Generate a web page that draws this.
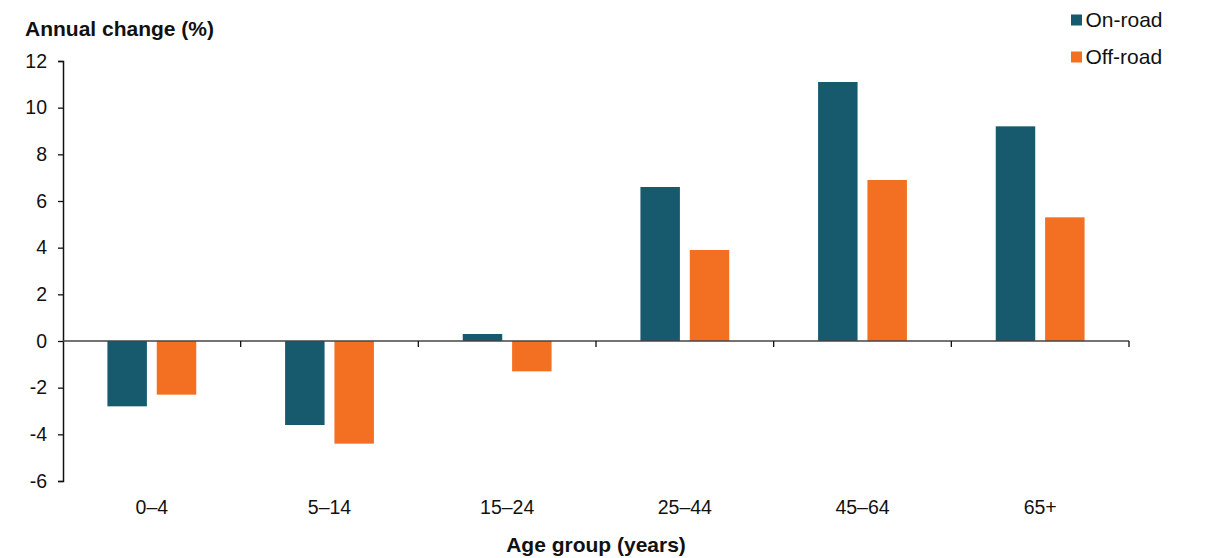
<!DOCTYPE html>
<html>
<head>
<meta charset="utf-8">
<script src="https://cdn.jsdelivr.net/npm/d3@7"></script>
<style>
  body { margin: 0; background: #fff; }
  text { font-family: "Liberation Sans", Arial, sans-serif; fill: #111; }
</style>
</head>
<body>
<script>
  // Data
  const ageGroups = ['0–4', '5–14', '15–24', '25–44', '45–64', '65+']
  const seriesNames = ['On-road', 'Off-road']
  const onRoad = [-2.8, -3.6, 0.3, 6.6, 11.1, 9.2]
  const offRoad = [-2.3, -4.4, -1.3, 3.9, 6.9, 5.3]
  const yTicks = [-6, -4, -2, 0, 2, 4, 6, 8, 10, 12]

  const colors = { 'On-road': '#175a6e', 'Off-road': '#f37022' }

  const width = 1208
  const height = 558
  const margin = { top: 61, right: 79, bottom: 77, left: 63 }

  const rows = ageGroups.map((g, i) => ({
    group: g,
    values: [
      { key: 'On-road', value: onRoad[i] },
      { key: 'Off-road', value: offRoad[i] },
    ],
  }))

  const svg = d3
    .select(document.body)
    .append('svg')
    .attr('width', width)
    .attr('height', height)

  const x0 = d3
    .scaleBand()
    .domain(ageGroups)
    .range([margin.left, width - margin.right])
    .padding(0)

  const bw = x0.bandwidth()
  const x1 = d3
    .scaleBand()
    .domain(seriesNames)
    .range([bw * 0.25, bw * 0.75])
    .paddingInner(0.2)

  const y = d3
    .scaleLinear()
    .domain([-6, 12])
    .range([height - margin.bottom, margin.top])

  // Bars
  svg
    .append('g')
    .selectAll('g')
    .data(rows)
    .enter()
    .append('g')
    .attr('transform', (d) => `translate(${x0(d.group)},0)`)
    .selectAll('rect')
    .data((d) => d.values)
    .enter()
    .append('rect')
    .attr('x', (d) => x1(d.key))
    .attr('width', x1.bandwidth())
    .attr('y', (d) => y(Math.max(0, d.value)))
    .attr('height', (d) => Math.abs(y(d.value) - y(0)))
    .attr('fill', (d) => colors[d.key])

  // Y axis (plain hyphen for negatives, as in the original)
  const yAxis = svg
    .append('g')
    .attr('transform', `translate(${margin.left},0)`)
    .call(
      d3
        .axisLeft(y)
        .tickValues(yTicks)
        .tickSize(5)
        .tickPadding(11)
        .tickFormat((d) => String(d))
    )
  yAxis.select('.domain').attr('stroke', '#111').attr('stroke-width', 1.5)
  yAxis.selectAll('.tick line').attr('stroke', '#111').attr('stroke-width', 1.3)
  yAxis
    .selectAll('text')
    .style('font-size', '19.5px')
    .attr('fill', '#111')
    .attr('font-family', null)

  // Zero line with category boundary ticks
  const xAxis = svg.append('g').attr('transform', `translate(0,${y(0)})`)
  xAxis
    .append('line')
    .attr('x1', margin.left)
    .attr('x2', width - margin.right)
    .attr('stroke', '#444')
    .attr('stroke-width', 1.3)
  xAxis
    .selectAll('.btick')
    .data(ageGroups.slice(1).concat(['end']))
    .enter()
    .append('line')
    .attr('x1', (d) => (d === 'end' ? width - margin.right : x0(d)))
    .attr('x2', (d) => (d === 'end' ? width - margin.right : x0(d)))
    .attr('y1', 0)
    .attr('y2', 6)
    .attr('stroke', '#111')
    .attr('stroke-width', 1.3)

  // Category labels below the plot
  svg
    .append('g')
    .selectAll('text')
    .data(ageGroups)
    .enter()
    .append('text')
    .attr('x', (d) => x0(d) + bw / 2)
    .attr('y', 514)
    .attr('text-anchor', 'middle')
    .style('font-size', '19.5px')
    .text((d) => d)

  // Axis titles
  svg
    .append('text')
    .attr('x', 25)
    .attr('y', 36)
    .style('font-size', '21px')
    .style('font-weight', 'bold')
    .text('Annual change (%)')

  svg
    .append('text')
    .attr('x', x0.range()[0] + (x0.range()[1] - x0.range()[0]) / 2)
    .attr('y', 552)
    .attr('text-anchor', 'middle')
    .style('font-size', '21px')
    .style('font-weight', 'bold')
    .text('Age group (years)')

  // Legend
  const legend = svg
    .append('g')
    .selectAll('g')
    .data(seriesNames)
    .enter()
    .append('g')
    .attr('transform', (d, i) => `translate(1071,${20 + i * 37})`)
  legend
    .append('rect')
    .attr('x', 0)
    .attr('y', -5.5)
    .attr('width', 11)
    .attr('height', 11)
    .attr('fill', (d) => colors[d])
  legend
    .append('text')
    .attr('x', 14.5)
    .attr('y', 7)
    .style('font-size', '21px')
    .text((d) => d)
</script>
</body>
</html>
